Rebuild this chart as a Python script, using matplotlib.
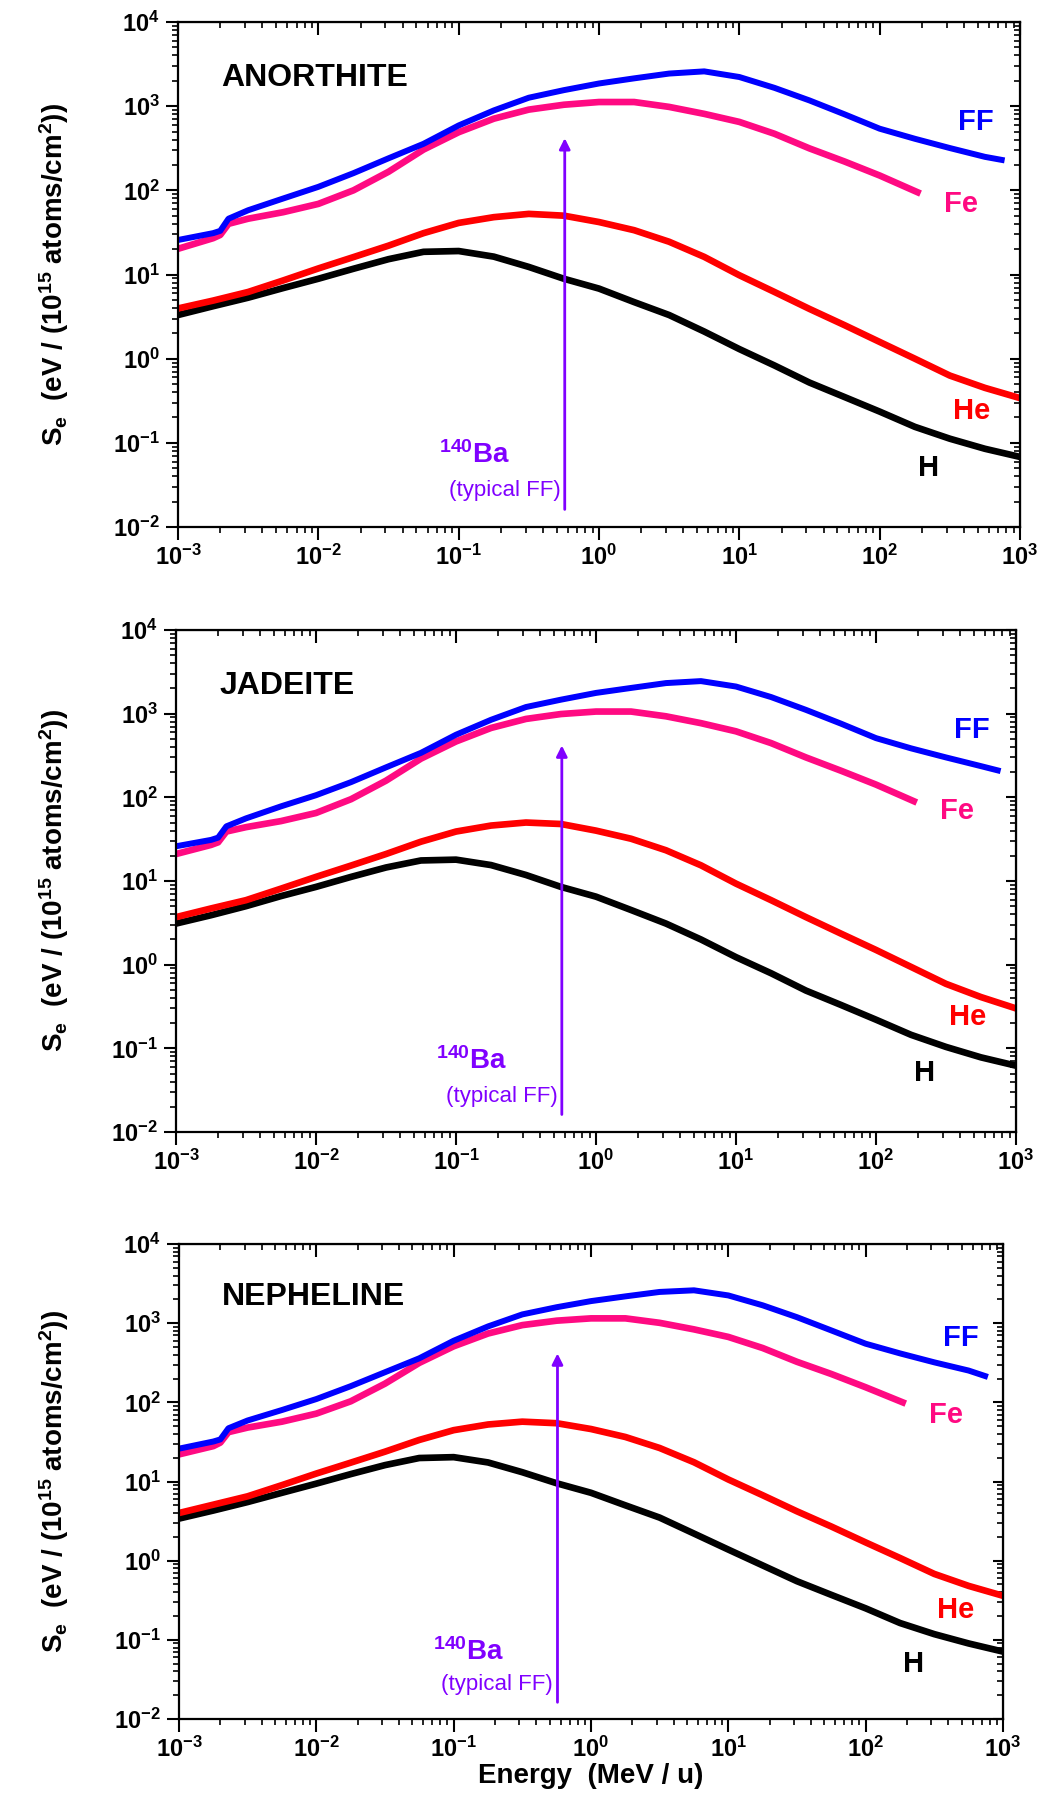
import numpy as np
import matplotlib
matplotlib.use("Agg")
from matplotlib import pyplot as plt
from matplotlib.ticker import LogLocator, NullFormatter

plt.rcParams['font.family'] = ['Liberation Sans', 'DejaVu Sans']
plt.rcParams['font.weight'] = 'bold'
plt.rcParams['mathtext.fontset'] = 'custom'
plt.rcParams['mathtext.rm'] = 'Liberation Sans:bold'
plt.rcParams['mathtext.it'] = 'Liberation Sans:bold'
plt.rcParams['mathtext.bf'] = 'Liberation Sans:bold'

###############################################
###             data  ###
###############################################
minerals = ["ANORTHITE", "JADEITE", "NEPHELINE"]

# energy grids (MeV/u)
e_light = [0.001, 0.00178, 0.00316, 0.00562, 0.01, 0.0178, 0.0316, 0.0562, 0.1, 0.178,
           0.316, 0.562, 1, 1.78, 3.16, 5.62, 10, 17.8, 31.6, 56.2, 100, 178, 316, 562, 1000]
e_fe = [0.001, 0.00178, 0.002, 0.00229, 0.00316, 0.00562, 0.01, 0.0178, 0.0316, 0.0562,
        0.1, 0.178, 0.316, 0.562, 1, 1.78, 3.16, 5.62, 10, 17.8, 31.6, 56.2, 100, 186]
e_ff = [0.001, 0.00178, 0.002, 0.00229, 0.00316, 0.00562, 0.01, 0.0178, 0.0316, 0.0562,
        0.1, 0.178, 0.316, 0.562, 1, 1.78, 3.16, 5.62, 10, 17.8, 31.6, 56.2, 100, 178,
        316, 562, 740]

# ANORTHITE
anor_h = [3.3, 4.2, 5.3, 6.9, 8.9, 11.7, 15.2, 18.6, 19, 16.3, 12.3, 8.9, 6.8, 4.7, 3.3,
          2.1, 1.3, 0.83, 0.52, 0.35, 0.235, 0.155, 0.112, 0.085, 0.068]
anor_he = [3.95, 4.9, 6.2, 8.5, 11.8, 16.1, 22, 31, 41, 48, 52.5, 50, 42, 33.6, 24.5,
           16.2, 9.8, 6.2, 3.9, 2.5, 1.58, 1.0, 0.63, 0.45, 0.34]
anor_fe = [20.2, 27, 29.5, 40, 46, 55, 69, 100, 166, 305, 490, 710, 910, 1040, 1120, 1120,
           980, 810, 650, 470, 315, 220, 150, 95]
anor_ff = [25.7, 31, 33, 46, 58, 80, 110, 160, 240, 357, 590, 890, 1260, 1550, 1860, 2140,
           2440, 2590, 2220, 1650, 1170, 800, 540, 410, 318, 250, 230]

# JADEITE
jade_h = [3.1, 3.9, 5.0, 6.6, 8.5, 11.2, 14.5, 17.6, 18, 15.5, 11.8, 8.5, 6.5, 4.5, 3.1,
          2.0, 1.23, 0.79, 0.49, 0.33, 0.22, 0.145, 0.104, 0.078, 0.062]
jade_he = [3.7, 4.7, 5.9, 8.1, 11.2, 15.3, 21, 29.5, 39, 46, 50, 48, 40, 32, 23.3, 15.4,
           9.3, 5.9, 3.7, 2.35, 1.5, 0.94, 0.59, 0.41, 0.30]
jade_fe = [21, 27, 29, 39, 44, 52, 65, 95, 158, 290, 465, 675, 865, 990, 1060, 1060, 930,
           770, 615, 445, 300, 208, 142, 90]
jade_ff = [26, 31, 33, 45, 56, 78, 106, 152, 228, 340, 560, 845, 1200, 1470, 1770, 2030,
           2320, 2450, 2110, 1580, 1110, 760, 510, 385, 300, 236, 210]

# NEPHELINE
neph_h = [3.4, 4.3, 5.5, 7.2, 9.4, 12.4, 16.1, 19.8, 20.3, 17.4, 13.1, 9.5, 7.2, 5.0, 3.5,
          2.2, 1.38, 0.87, 0.55, 0.37, 0.25, 0.163, 0.118, 0.09, 0.071]
neph_he = [4.0, 5.1, 6.5, 9.0, 12.6, 17.3, 23.8, 33.5, 44.5, 52.5, 57, 54.5, 46, 36.5,
           26.5, 17.5, 10.6, 6.7, 4.2, 2.7, 1.7, 1.08, 0.68, 0.48, 0.36]
neph_fe = [22, 28, 31, 42, 48, 57, 72, 103, 172, 315, 510, 740, 945, 1075, 1150, 1150,
           1010, 835, 670, 485, 325, 228, 155, 100]
neph_ff = [26, 32, 34, 47, 59, 80, 110, 160, 240, 360, 600, 910, 1290, 1590, 1900, 2180,
           2480, 2600, 2240, 1680, 1190, 810, 550, 415, 320, 252, 215]

ff_energy = 0.57  # 140Ba typical fission fragment (MeV/u)

###############################################
###             style                       ###
###############################################
colors = {"H": "black", "He": "#ff0000", "Fe": "#ff0a82", "FF": "#0000ff"}
purple = "#8000ff"
W, H = 1043, 1793
# axes boxes in pixels: left, top, right, bottom
boxes = [(178, 22, 1020, 527), (176, 630, 1016, 1132), (179, 1244, 1003, 1719)]


def px_rect(b):
    l, t, r, bt = b
    return [l / W, 1 - bt / H, (r - l) / W, (bt - t) / H]


def style_axes(ax):
    ax.set_xscale('log')
    ax.set_yscale('log')
    ax.set_xlim(1e-3, 1e3)
    ax.set_ylim(1e-2, 1e4)
    for s in ax.spines.values():
        s.set_linewidth(1.6)
    ax.xaxis.set_major_locator(LogLocator(base=10, numticks=20))
    ax.yaxis.set_major_locator(LogLocator(base=10, numticks=20))
    ax.xaxis.set_minor_locator(LogLocator(base=10, subs=np.arange(2, 10), numticks=40))
    ax.yaxis.set_minor_locator(LogLocator(base=10, subs=np.arange(2, 10), numticks=40))
    ax.xaxis.set_minor_formatter(NullFormatter())
    ax.yaxis.set_minor_formatter(NullFormatter())
    ax.tick_params(which='major', direction='out', length=9, width=1.5, labelsize=17, pad=4)
    ax.tick_params(which='minor', direction='out', length=4, width=1.2)
    # mirrored ticks pointing inward on top and right
    top = ax.secondary_xaxis('top')
    top.xaxis.set_major_locator(LogLocator(base=10, numticks=20))
    top.xaxis.set_minor_locator(LogLocator(base=10, subs=np.arange(2, 10), numticks=40))
    top.tick_params(which='major', direction='in', length=9, width=1.5, labeltop=False)
    top.tick_params(which='minor', direction='in', length=4, width=1.2)
    right = ax.secondary_yaxis('right')
    right.yaxis.set_major_locator(LogLocator(base=10, numticks=20))
    right.yaxis.set_minor_locator(LogLocator(base=10, subs=np.arange(2, 10), numticks=40))
    right.tick_params(which='major', direction='in', length=7, width=1.5, labelright=False)
    right.tick_params(which='minor', direction='in', length=4, width=1.2)


fig = plt.figure(figsize=(W / 100, H / 100), dpi=100)

panel_data = [
    (anor_h, anor_he, anor_fe, anor_ff),
    (jade_h, jade_he, jade_fe, jade_ff),
    (neph_h, neph_he, neph_fe, neph_ff),
]

for k, name in enumerate(minerals):
    ax = fig.add_axes(px_rect(boxes[k]))
    style_axes(ax)
    sh, she, sfe, sff = panel_data[k]
    ax.plot(e_light, sh, color=colors["H"], lw=4.8, solid_joinstyle='round')
    ax.plot(e_light, she, color=colors["He"], lw=4.8, solid_joinstyle='round')
    ax.plot(e_fe, sfe, color=colors["Fe"], lw=4.8, solid_joinstyle='round')
    ax.plot(e_ff, sff, color=colors["FF"], lw=4.3, solid_joinstyle='round')

    # ion labels
    ax.text(10 ** 2.56, 10 ** 2.81, "FF", color=colors["FF"], fontsize=21, va='center')
    ax.text(10 ** 2.46, 10 ** 1.84, "Fe", color=colors["Fe"], fontsize=21, va='center')
    ax.text(10 ** 2.52, 10 ** -0.62, "He", color=colors["He"], fontsize=21, va='center')
    ax.text(10 ** 2.27, 10 ** -1.30, "H", color=colors["H"], fontsize=21, va='center')

    ax.text(10 ** -2.69, 10 ** 3.33, name, fontsize=23, va='center', ha='left')

    # 140Ba arrow
    ax.annotate('', xy=(ff_energy, 450), xytext=(ff_energy, 0.015),
                arrowprops=dict(arrowstyle='-|>', color=purple, lw=2, mutation_scale=16))
    ax.text(10 ** -0.89, 10 ** -1.15, r'$^{140}$Ba', color=purple, fontsize=20,
            ha='center', va='center')
    ax.text(10 ** -0.275, 10 ** -1.57, "(typical FF)", color=purple, fontsize=16,
            fontweight='normal', ha='right', va='center')

    l, t, r, bt = boxes[k]
    fig.text(54 / W, 1 - (t + bt) / 2 / H,
             r'S$_{e}$  (eV / (10$^{15}$ atoms/cm$^{2}$))',
             rotation=90, ha='center', va='center', fontsize=20)
    if k == 2:
        fig.text((l + r) / 2 / W, 1 - 1776 / H, "Energy  (MeV / u)",
                 ha='center', va='center', fontsize=20, fontweight='bold')

fig.savefig("out.png", dpi=100)
